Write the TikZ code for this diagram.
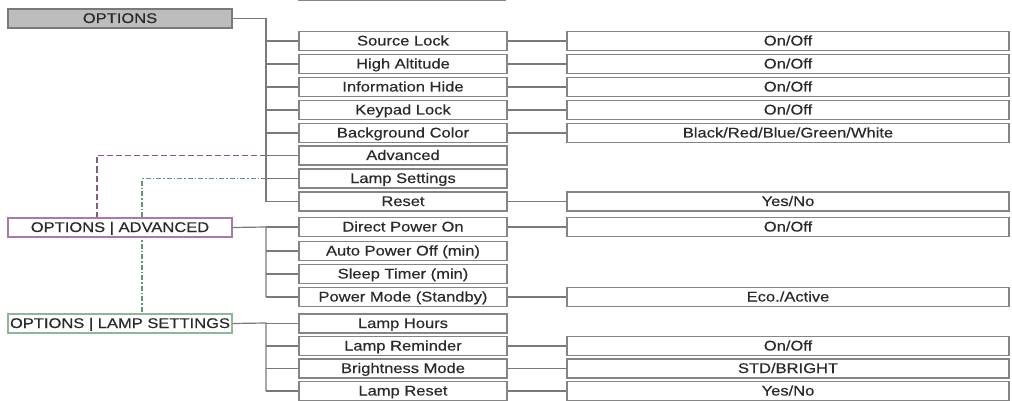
\documentclass[tikz,border=0pt]{standalone}
\usepackage{fontspec}
\setmainfont{Liberation Sans}[FakeStretch=1.18, FakeBold=0.4]
\definecolor{boxgray}{HTML}{858585}
\definecolor{linegray}{HTML}{7A7A7A}
\definecolor{txt}{HTML}{2A2A2A}
\definecolor{optfill}{HTML}{BDBDBD}
\definecolor{advcol}{HTML}{A77AA7}
\definecolor{advdash}{HTML}{855A85}
\definecolor{lampcol}{HTML}{8FB59A}
\definecolor{lampdash}{HTML}{5E9A70}
\tikzset{
  base/.style={draw=boxgray, line width=1.2pt, fill=white, minimum height=19pt, inner sep=0pt, text height=10pt, text depth=1pt, text=txt, font=\fontsize{14}{16}\selectfont},
  item/.style={base, minimum width=208pt},
  val/.style={base, minimum width=442pt},
  hdr/.style={base, minimum width=224pt},
  link/.style={draw=linegray, line width=1.2pt},
  advlink/.style={draw=advdash, line width=1.3pt, dash pattern=on 6pt off 3pt},
  lamplink/.style={draw=lampdash, line width=1.1pt, dash pattern=on 5pt off 2pt on 1.5pt off 2pt}
}
\begin{document}
\begin{tikzpicture}[x=1pt,y=-1pt]
\useasboundingbox (0,0) rectangle (1012,401);
\fill[white] (0,0) rectangle (1012,401);
% cut-off box edge at top
\draw[draw=boxgray, line width=1.2pt] (298,0.6) -- (506,0.6);
% trunk coordinates
\coordinate (t1) at (266,18.5);
\coordinate (t2) at (266,227);
\coordinate (t3) at (266,323);
% middle column
\node[item] (srclock) at (403,41) {Source Lock};
\node[item] (highalt) at (403,64) {High Altitude};
\node[item] (infohide) at (403,87) {Information Hide};
\node[item] (keylock) at (403,110) {Keypad Lock};
\node[item] (bgcolor) at (403,133) {Background Color};
\node[item] (advanced) at (403,155.5) {Advanced};
\node[item] (lampset) at (403,178.5) {Lamp Settings};
\node[item] (reset) at (403,201.5) {Reset};
\node[item] (dpo) at (403,227) {Direct Power On};
\node[item] (apo) at (403,251) {Auto Power Off (min)};
\node[item] (sleep) at (403,274) {Sleep Timer (min)};
\node[item] (pmode) at (403,297) {Power Mode (Standby)};
\node[item] (lhours) at (403,323.5) {Lamp Hours};
\node[item] (lrem) at (403,346) {Lamp Reminder};
\node[item] (bmode) at (403,368.5) {Brightness Mode};
\node[item] (lreset) at (403,391) {Lamp Reset};
% right column
\node[val] (v1) at (788,41) {On/Off};
\node[val] (v2) at (788,64) {On/Off};
\node[val] (v3) at (788,87) {On/Off};
\node[val] (v4) at (788,110) {On/Off};
\node[val] (v5) at (788,133) {Black/Red/Blue/Green/White};
\node[val] (v6) at (788,201.5) {Yes/No};
\node[val] (v7) at (788,227) {On/Off};
\node[val] (v8) at (788,297) {Eco./Active};
\node[val] (v9) at (788,346) {On/Off};
\node[val] (v10) at (788,368.5) {STD/BRIGHT};
\node[val] (v11) at (788,391) {Yes/No};
% dashed cross links (drawn before headers so the boxes cover them)
\draw[lamplink] (t1 |- lampset.west) -| (142,315);
\draw[advlink] (t1 |- advanced.west) -| (97,218);
% headers
\node[hdr, fill=optfill, draw=linegray] (opt) at (120,18.5) {OPTIONS};
\node[hdr, draw=advcol] (advh) at (120,227.5) {OPTIONS | ADVANCED};
\node[hdr, draw=lampcol] (lamph) at (120,323.5) {OPTIONS | LAMP SETTINGS};
% trunks
\draw[link] (opt.east) -- (t1) -- (t1 |- reset.west);
\draw[link] (advh.east) -- (t2) -- (t2 |- pmode.west);
\draw[link] (lamph.east) -- (t3) -- (t3 |- lreset.west);
% branches
\foreach \n in {srclock,highalt,infohide,keylock,bgcolor,advanced,lampset,reset}
  \draw[link] (t1 |- \n.west) -- (\n.west);
\foreach \n in {dpo,apo,sleep,pmode}
  \draw[link] (t2 |- \n.west) -- (\n.west);
\foreach \n in {lhours,lrem,bmode,lreset}
  \draw[link] (t3 |- \n.west) -- (\n.west);
% value links
\draw[link] (srclock.east) -- (v1.west);
\draw[link] (highalt.east) -- (v2.west);
\draw[link] (infohide.east) -- (v3.west);
\draw[link] (keylock.east) -- (v4.west);
\draw[link] (bgcolor.east) -- (v5.west);
\draw[link] (reset.east) -- (v6.west);
\draw[link] (dpo.east) -- (v7.west);
\draw[link] (pmode.east) -- (v8.west);
\draw[link] (lrem.east) -- (v9.west);
\draw[link] (bmode.east) -- (v10.west);
\draw[link] (lreset.east) -- (v11.west);
\end{tikzpicture}
\end{document}
